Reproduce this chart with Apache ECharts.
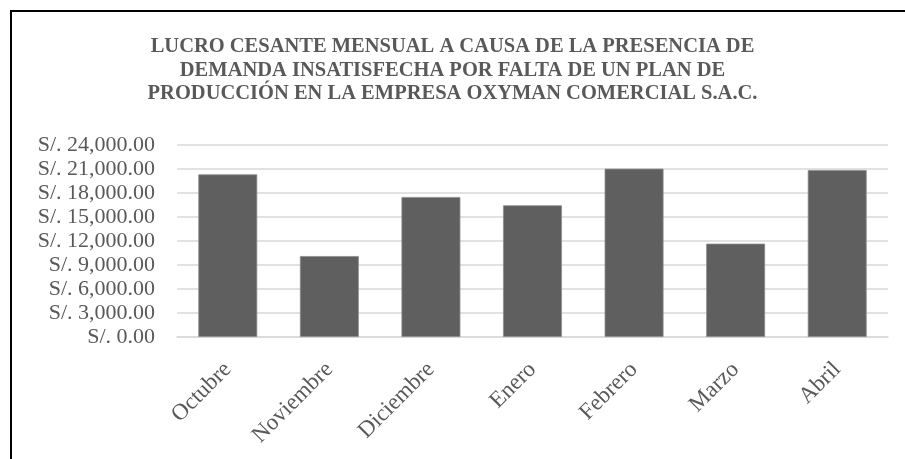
<!DOCTYPE html>
<html>
<head>
<meta charset="utf-8">
<script src="https://cdn.jsdelivr.net/npm/echarts@6/dist/echarts.min.js"></script>
<style>
html,body{margin:0;padding:0;background:#fff;}
#chart{width:905px;height:459px;}
</style>
</head>
<body>
<div id="chart"></div>
<script>
var titleText = 'LUCRO CESANTE MENSUAL A CAUSA DE LA PRESENCIA DE\nDEMANDA INSATISFECHA POR FALTA DE UN PLAN DE\nPRODUCCIÓN EN LA EMPRESA OXYMAN COMERCIAL S.A.C.';
var months = ['Octubre', 'Noviembre', 'Diciembre', 'Enero', 'Febrero', 'Marzo', 'Abril'];
var lucroCesante = [20330, 10120, 17500, 16460, 21040, 11670, 20870];
var yMin = 0, yMax = 24000, yStep = 3000;

function fmtSoles(v) {
  var parts = v.toFixed(2).split('.');
  parts[0] = parts[0].replace(/\B(?=(\d{3})+(?!\d))/g, ',');
  return 'S/. ' + parts.join('.');
}

var chart = echarts.init(document.getElementById('chart'));
chart.setOption({
  backgroundColor: '#ffffff',
  animation: false,
  title: {
    text: titleText,
    left: 'center',
    top: 30,
    textStyle: {
      fontFamily: 'Liberation Serif',
      fontWeight: 'bold',
      fontSize: 20.5,
      lineHeight: 23.5,
      color: '#595959'
    }
  },
  graphic: [{
    type: 'polyline',
    shape: { points: [[11, 470], [11, 11], [920, 11]] },
    style: { stroke: '#000000', lineWidth: 2, fill: null },
    silent: true
  }],
  grid: { left: 177, right: 17, top: 145, bottom: 122 },
  xAxis: {
    type: 'category',
    data: months,
    axisLine: { show: true, lineStyle: { color: '#d9d9d9', width: 1.5 } },
    axisTick: { show: false },
    axisLabel: {
      rotate: 45,
      margin: 29,
      fontFamily: 'Liberation Serif',
      fontSize: 23,
      color: '#595959'
    }
  },
  yAxis: {
    type: 'value',
    min: yMin, max: yMax, interval: yStep,
    axisLine: { show: false },
    axisTick: { show: false },
    splitLine: { lineStyle: { color: '#d9d9d9', width: 1.5 } },
    axisLabel: {
      margin: 22,
      fontFamily: 'Liberation Serif',
      fontSize: 22,
      color: '#595959',
      formatter: fmtSoles
    }
  },
  series: [{
    type: 'bar',
    data: lucroCesante,
    barWidth: '58%',
    itemStyle: { color: '#5f5f5f', borderColor: '#8c8c8c', borderWidth: 0.8 }
  }]
});
</script>
</body>
</html>
